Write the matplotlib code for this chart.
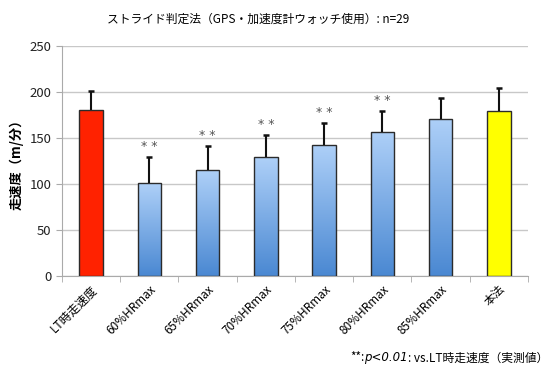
import numpy as np
import matplotlib.pyplot as plt
from matplotlib.colors import LinearSegmentedColormap

plt.rcParams['font.family'] = ['Noto Sans CJK JP', 'DejaVu Sans']

categories = ['LT時走速度', '60%HRmax', '65%HRmax', '70%HRmax', '75%HRmax',
              '80%HRmax', '85%HRmax', '本法']
speed = [181, 101, 115, 129, 143, 157, 171, 179]
sd = [20, 28, 26, 24, 23, 22, 23, 26]
signif = ['', '**', '**', '**', '**', '**', '', '']
yticks = [0, 50, 100, 150, 200, 250]

fig = plt.figure(figsize=(5.5, 3.69), dpi=100)
ax = fig.add_axes([0.1127, 0.252, 0.8473, 0.623])

x = np.arange(len(categories))
width = 0.4
blue = LinearSegmentedColormap.from_list('bluebar', ['#4a88d2', '#aed0f8'])
grad = np.linspace(0, 1, 256).reshape(-1, 1)

for i, (v, e) in enumerate(zip(speed, sd)):
    if i == 0:
        fc = '#ff2200'
    elif i == len(speed) - 1:
        fc = '#ffff00'
    else:
        fc = 'none'
    bar = ax.bar(x[i], v, width, color=fc, edgecolor='#2b2b2b', linewidth=1.0, zorder=3)[0]
    if fc == 'none':
        im = ax.imshow(grad, cmap=blue, origin='lower', aspect='auto',
                       extent=[x[i] - width / 2, x[i] + width / 2, 0, v], zorder=2.5)
        im.set_clip_path(bar)
    # upper half of the error bar only
    ax.vlines(x[i], v, v + e, color='#111111', linewidth=1.5, zorder=4)
    ax.plot(x[i], v + e, marker='_', markersize=5, markeredgewidth=1.8,
            color='#111111', zorder=4)
    if signif[i]:
        ax.text(x[i], v + e + 5, ' '.join(signif[i]), ha='center', va='bottom',
                fontsize=9, color='#555555', family='DejaVu Sans')

ax.set_xlim(-0.5, len(categories) - 0.5)
ax.set_ylim(0, 250)
ax.set_yticks(yticks)
ax.set_xticks(x)
ax.set_xticklabels(categories, rotation=45, ha='right', rotation_mode='anchor', fontsize=8.5)
ax.set_xticks(np.arange(-0.5, len(categories)), minor=True)
ax.tick_params(axis='x', which='major', length=0, pad=5)
ax.tick_params(axis='x', which='minor', length=4, color='#aaaaaa')
ax.tick_params(axis='y', length=4, color='#aaaaaa', labelsize=9.5, labelcolor='#222222')
ax.grid(axis='y', color='#c8c8c8', linewidth=1, zorder=0)
for side in ['top', 'right']:
    ax.spines[side].set_visible(False)
for side in ['left', 'bottom']:
    ax.spines[side].set_color('#aaaaaa')

ax.set_ylabel('走速度（m/分）', fontsize=9.5, fontweight='bold', labelpad=4)
fig.text(0.47, 0.948, 'ストライド判定法（GPS・加速度計ウォッチ使用）: n=29',
         ha='center', va='center', fontsize=8.5)

# footnote with italic p-value, assembled right to left
fig.canvas.draw()
r = fig.canvas.get_renderer()
xr = 0.997
parts = [(': vs.LT時走速度（実測値）', 'normal', None),
         ('p<0.01', 'italic', 'DejaVu Sans'),
         ('**:', 'normal', None)]
for txt, style, fam in parts:
    kw = {'family': fam} if fam else {}
    t = fig.text(xr, 0.03, txt, ha='right', va='center', fontsize=8.5,
                 style=style, **kw)
    bb = t.get_window_extent(r)
    xr = bb.x0 / fig.bbox.width

fig.savefig('out.png', dpi=100)
